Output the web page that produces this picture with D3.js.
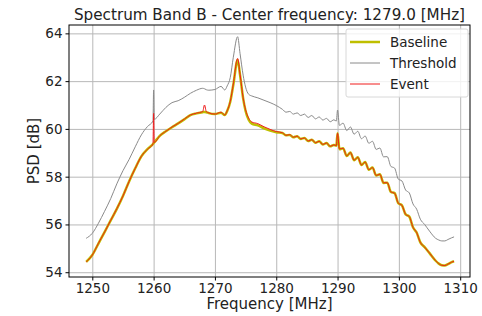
<!DOCTYPE html>
<html>
<head>
<meta charset="utf-8">
<script src="https://cdn.jsdelivr.net/npm/d3@7"></script>
<style>
  body { margin: 0; background: #fff; }
  text { font-family: "DejaVu Sans", sans-serif; fill: #222; }
</style>
</head>
<body>
<div id="chart"></div>
<script>
// spectrum data
var freqs = [1249, 1250, 1251, 1252, 1253, 1254, 1255, 1256, 1257, 1258, 1259, 1259.9, 1260, 1260.1,
  1261, 1262, 1263, 1264, 1265, 1266, 1267, 1268, 1268.3, 1268.6, 1269, 1270, 1271, 1271.6, 1272,
  1272.5, 1273, 1273.7, 1274.1, 1274.6, 1275, 1275.5, 1276, 1277, 1278, 1279, 1280,
  1281.0, 1281.6, 1282.2, 1282.8, 1283.4, 1284.0, 1284.6, 1285.2, 1285.8, 1286.4, 1287.0, 1287.6,
  1288.2, 1288.8, 1289.4, 1289.8, 1290.0, 1290.3,
  1290.9, 1291.5, 1292.1, 1292.7, 1293.3, 1293.9, 1294.5, 1295.1, 1295.7, 1296.3, 1296.9, 1297.5,
  1298.1, 1298.7, 1299.3, 1299.9, 1300.5, 1301.1, 1301.7, 1302.3, 1302.9, 1303.5,
  1304.2, 1305, 1306, 1306.5, 1307, 1307.5, 1308, 1308.6, 1309];

var baseline = [54.43, 54.72, 55.20, 55.68, 56.17, 56.65, 57.19, 57.80, 58.35, 58.85, 59.15, 59.37, 59.40, 59.43,
  59.71, 59.90, 60.07, 60.23, 60.40, 60.58, 60.65, 60.70, 60.71, 60.70, 60.66, 60.62, 60.68, 60.58, 60.75,
  61.14, 61.85, 62.88, 62.25, 61.28, 60.75, 60.38, 60.22, 60.15, 60.02, 59.93, 59.86,
  59.83, 59.73, 59.75, 59.65, 59.69, 59.58, 59.62, 59.49, 59.55, 59.42, 59.48, 59.35,
  59.41, 59.27, 59.33, 59.30, 59.82, 59.15,
  59.19, 58.87, 59.01, 58.69, 58.81, 58.49, 58.61, 58.29, 58.38, 58.05, 58.10, 57.74,
  57.75, 57.36, 57.31, 56.89, 56.80, 56.42, 56.33, 55.88, 55.66, 55.25,
  55.05, 54.80, 54.48, 54.36, 54.29, 54.28, 54.34, 54.42, 54.46];

var threshold = [55.42, 55.63, 56.05, 56.55, 57.08, 57.70, 58.25, 58.72, 59.25, 59.75, 60.10, 60.33, 61.63, 60.40,
  60.62, 60.90, 61.10, 61.18, 61.32, 61.49, 61.62, 61.70, 61.68, 61.64, 61.62, 61.65, 61.78, 61.63, 61.80,
  62.15, 63.00, 63.86, 63.15, 62.25, 61.75, 61.45, 61.38, 61.30, 61.20, 61.10, 60.98,
  60.82, 60.70, 60.73, 60.62, 60.67, 60.56, 60.62, 60.48, 60.56, 60.42, 60.50, 60.37,
  60.44, 60.30, 60.38, 60.33, 60.79, 60.15,
  60.24, 59.93, 60.08, 59.78, 59.90, 59.59, 59.70, 59.40, 59.48, 59.14, 59.20, 58.83,
  58.84, 58.43, 58.36, 57.90, 57.82, 57.44, 57.32, 56.86, 56.64, 56.22,
  56.00, 55.72, 55.42, 55.35, 55.31, 55.31, 55.37, 55.44, 55.48];

var event = [54.43, 54.72, 55.21, 55.68, 56.17, 56.66, 57.19, 57.80, 58.35, 58.85, 59.15, 59.37, 60.65, 59.43,
  59.71, 59.90, 60.08, 60.23, 60.41, 60.58, 60.66, 60.72, 61.00, 60.72, 60.67, 60.62, 60.70, 60.58, 60.76,
  61.15, 61.88, 62.95, 62.28, 61.30, 60.80, 60.45, 60.29, 60.22, 60.09, 59.98, 59.89,
  59.84, 59.73, 59.76, 59.65, 59.70, 59.58, 59.62, 59.49, 59.55, 59.42, 59.48, 59.35,
  59.41, 59.27, 59.33, 59.30, 59.82, 59.16,
  59.19, 58.87, 59.01, 58.69, 58.81, 58.49, 58.61, 58.29, 58.38, 58.05, 58.10, 57.74,
  57.75, 57.36, 57.31, 56.89, 56.80, 56.42, 56.33, 55.88, 55.66, 55.25,
  55.05, 54.80, 54.48, 54.36, 54.29, 54.28, 54.34, 54.42, 54.46];

var xTicks = [1250, 1260, 1270, 1280, 1290, 1300, 1310];
var yTicks = [54, 56, 58, 60, 62, 64];

var svgWidth = 482;
var svgHeight = 316;
var margin = { top: 25, right: 12, bottom: 39, left: 69 };
var width = svgWidth - margin.left - margin.right;
var height = svgHeight - margin.top - margin.bottom;

var svg = d3.select("#chart")
  .append("svg")
  .attr("width", svgWidth)
  .attr("height", svgHeight);

var chartGroup = svg.append("g")
  .attr("transform", `translate(${margin.left}, ${margin.top})`);

var x = d3.scaleLinear().domain([1246.2, 1311.6]).range([0, width]);
var y = d3.scaleLinear().domain([53.8, 64.35]).range([height, 0]);

// grid
chartGroup.append("g")
  .attr("transform", `translate(0, ${height})`)
  .call(d3.axisBottom(x).tickValues(xTicks).tickSize(-height).tickFormat(""))
  .call(g => g.select(".domain").remove())
  .selectAll("line").attr("stroke", "#b8b8b8").attr("stroke-width", 1);
chartGroup.append("g")
  .call(d3.axisLeft(y).tickValues(yTicks).tickSize(-width).tickFormat(""))
  .call(g => g.select(".domain").remove())
  .selectAll("line").attr("stroke", "#b8b8b8").attr("stroke-width", 1);

var series = [
  { name: "Baseline", values: baseline, color: "#bfbf00", w: 2.5 },
  { name: "Threshold", values: threshold, color: "#8a8a8a", w: 1 },
  { name: "Event", values: event, color: "#f01c1c", w: 1 }
];

var line = d3.line()
  .x((d, i) => x(freqs[i]))
  .y(d => y(d))
  .curve(d3.curveMonotoneX);

series.forEach(s => {
  chartGroup.append("path")
    .datum(s.values)
    .attr("fill", "none")
    .attr("stroke", s.color)
    .attr("stroke-width", s.w)
    .attr("stroke-linejoin", "round")
    .attr("d", line);
});

// frame
chartGroup.append("rect")
  .attr("width", width).attr("height", height)
  .attr("fill", "none").attr("stroke", "#000").attr("stroke-width", 1);

// axes
var xAxis = chartGroup.append("g")
  .attr("transform", `translate(0, ${height})`)
  .call(d3.axisBottom(x).tickValues(xTicks).tickFormat(d3.format("d")).tickSize(3.5).tickPadding(3));
var yAxis = chartGroup.append("g")
  .call(d3.axisLeft(y).tickValues(yTicks).tickFormat(d3.format("d")).tickSize(3.5).tickPadding(3));
[xAxis, yAxis].forEach(a => {
  a.select(".domain").remove();
  a.selectAll("text").attr("font-size", "13.5px").attr("fill", "#222")
    .attr("font-family", "DejaVu Sans, sans-serif");
  a.selectAll("line").attr("stroke", "#000");
});

// title and labels
svg.append("text")
  .attr("x", margin.left + width / 2)
  .attr("y", 20)
  .attr("text-anchor", "middle")
  .attr("font-size", "15.2px")
  .text("Spectrum Band B - Center frequency: 1279.0 [MHz]");

svg.append("text")
  .attr("x", margin.left + width / 2)
  .attr("y", 309)
  .attr("text-anchor", "middle")
  .attr("font-size", "15px")
  .text("Frequency [MHz]");

svg.append("text")
  .attr("transform", `translate(39, ${margin.top + height / 2}) rotate(-90)`)
  .attr("text-anchor", "middle")
  .attr("font-size", "15px")
  .text("PSD [dB]");

// legend
var legend = chartGroup.append("g")
  .attr("transform", `translate(${width - 124}, 4)`);
legend.append("rect")
  .attr("width", 122).attr("height", 68)
  .attr("rx", 2)
  .attr("fill", "#fff").attr("fill-opacity", 0.8)
  .attr("stroke", "#d8d8d8");
series.forEach((s, i) => {
  var ly = 13 + i * 21;
  legend.append("line")
    .attr("x1", 4).attr("x2", 34)
    .attr("y1", ly).attr("y2", ly)
    .attr("stroke", s.color).attr("stroke-width", s.w);
  legend.append("text")
    .attr("x", 44).attr("y", ly + 5)
    .attr("font-size", "13.5px")
    .text(s.name);
});
</script>
</body>
</html>
